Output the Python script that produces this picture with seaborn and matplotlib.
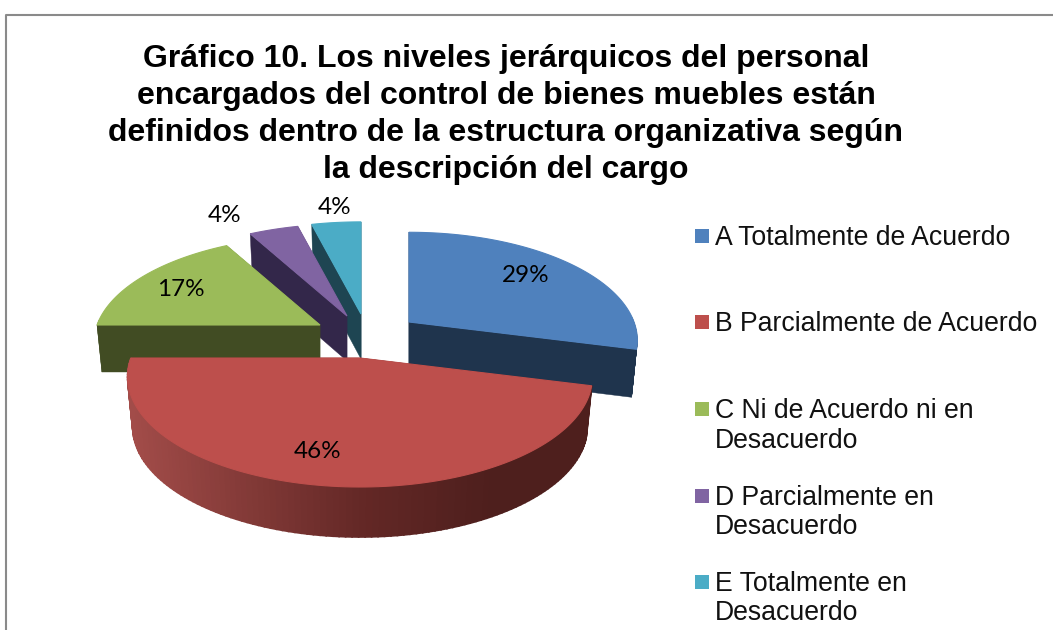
import numpy as np
import matplotlib
matplotlib.use("Agg")
import matplotlib.pyplot as plt
import seaborn as sns

title = ("Gráfico 10. Los niveles jerárquicos del personal\n"
         "encargados del control de bienes muebles están\n"
         "definidos dentro de la estructura organizativa según\n"
         "la descripción del cargo")
categories = ["A Totalmente de Acuerdo", "B Parcialmente de Acuerdo",
              "C Ni de Acuerdo ni en\nDesacuerdo", "D Parcialmente en\nDesacuerdo",
              "E Totalmente en\nDesacuerdo"]
values = [29, 46, 17, 4, 4]

top_colors = ["#4f81bd", "#bd4f4c", "#9bbb59", "#8064a2", "#4bacc6"]
side_colors = ["#1f344d", "#4e1f1d", "#414c23", "#33274a", "#1e4552"]

# layout in pixels, the reference is a 3d pie with perspective
apex = [(409, 322), (360, 358), (320, 325), (347, 316), (361, 314)]
radius = [225, 229, 223, 231, 231]
depths = [48, 50, 47, 45, 45]
label_pos = [(526, 276), (318, 452), (181, 290), (225, 216), (335, 208)]
legend_y = [245, 331, 418, 505, 591]
squash = 0.467
persp = 0.171

sns.set_theme(style="white")
plt.rcParams["font.family"] = ["Liberation Sans", "DejaVu Sans"]

fig = plt.figure(figsize=(10.53, 6.3), dpi=100, facecolor="white")
ax = fig.add_axes([0, 0, 1, 1])
ax.set_xlim(0, 1053)
ax.set_ylim(630, 0)
ax.axis("off")

# chart frame
ax.plot([6, 6, 1053], [630, 15, 15], color="#8a8a8a", lw=1.5)


def top_pt(i, th):
    u, v = np.sin(th), -np.cos(th)
    s = 1 / (1 - persp * v)
    return apex[i][0] + radius[i] * u * s, apex[i][1] + radius[i] * squash * v * s


def low_pt(i, th):
    x, y = top_pt(i, th)
    return apex[i][0] + (x - apex[i][0]) * 0.978, y + depths[i]


def red_side(x):
    r = np.interp(x, [130, 360, 490], [162, 100, 78])
    g = np.interp(x, [130, 360, 490], [76, 40, 31])
    b = np.interp(x, [130, 360, 490], [73, 38, 29])
    return (r / 255, g / 255, b / 255)


edges = np.cumsum([0] + values) / sum(values) * 2 * np.pi

# back to front: teal, purple, green, blue, red
for i in [4, 3, 2, 0, 1]:
    t0, t1 = edges[i], edges[i + 1]
    ax0 = apex[i]
    low0 = (ax0[0], ax0[1] + depths[i])
    for t in (t1, t0):
        a, b = top_pt(i, t), low_pt(i, t)
        ax.fill([ax0[0], a[0], b[0], low0[0]], [ax0[1], a[1], b[1], low0[1]],
                color=side_colors[i], lw=0.3)
    ths = np.linspace(t0, t1, 121)
    for a0, a1 in zip(ths[:-1], ths[1:]):
        if np.cos((a0 + a1) / 2) > 0.05:
            continue
        p0, p1, q1, q0 = top_pt(i, a0), top_pt(i, a1), low_pt(i, a1), low_pt(i, a0)
        c = red_side((p0[0] + p1[0]) / 2) if i == 1 else side_colors[i]
        ax.fill([p0[0], p1[0], q1[0], q0[0]], [p0[1], p1[1], q1[1], q0[1]],
                color=c, lw=1.2 if i == 1 else 0.2)
    arc = [top_pt(i, t) for t in ths]
    ax.fill([ax0[0]] + [p[0] for p in arc], [ax0[1]] + [p[1] for p in arc],
            color=top_colors[i], lw=0.8)

for v, (x, y) in zip(values, label_pos):
    ax.text(x, y, f"{v}%", ha="center", va="center", fontsize=17.5,
            family=["Lato", "DejaVu Sans"], color="black")

ax.text(506, 114.5, title, ha="center", va="center", fontsize=23, fontweight="bold",
        linespacing=1.29, color="black")

for name, c, y in zip(categories, top_colors, legend_y):
    ax.scatter([702], [y - 9], marker="s", s=100, color=c, linewidths=0)
    for n, line in enumerate(name.split("\n")):
        ax.text(715, y + n * 29.5, line, ha="left", va="baseline", fontsize=19.2,
                color="#111111")

fig.savefig("out.png", dpi=100)
